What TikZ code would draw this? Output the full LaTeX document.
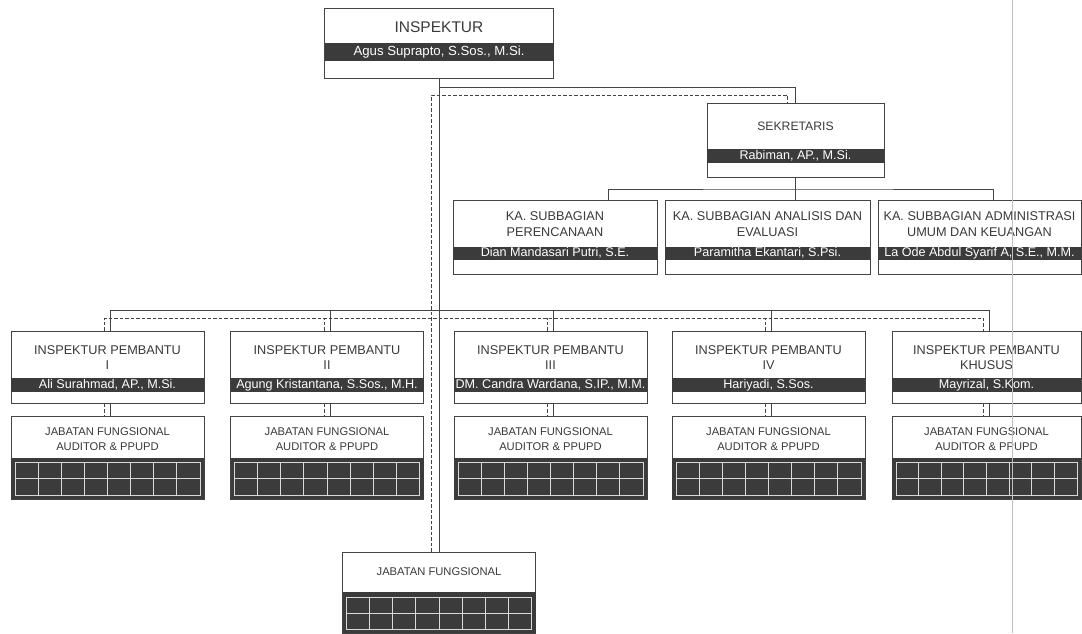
\documentclass[tikz,border=0pt]{standalone}
\usepackage{fontspec}
\setmainfont{Liberation Sans}
\usetikzlibrary{positioning,calc}
\usepackage{xcolor}
\definecolor{linec}{HTML}{444444}
\definecolor{bandc}{HTML}{3B3B3B}
\definecolor{textc}{HTML}{3A3A3A}

\tikzset{
  unit/.style={draw=linec, line width=1pt, fill=white, inner sep=0pt},
  band/.style={fill=bandc, text=white, inner sep=0pt, text height=8.5pt, text depth=2.5pt,
    font=\fontsize{12.6}{14}\selectfont},
  ttl/.style={text=textc, align=center, inner sep=0pt, font=\fontsize{12.7}{15.5}\selectfont},
  jfttl/.style={text=textc, align=center, inner sep=0pt, font=\fontsize{11.2}{15}\selectfont},
  cellarea/.style={fill=bandc, draw=none, inner sep=0pt},
  gridline/.style={draw=white!85!black, line width=0.8pt},
  solidline/.style={draw=linec, line width=1pt},
  dashline/.style={draw=linec, line width=0.9pt, dash pattern=on 3.5pt off 2pt},
}

\begin{document}
\begin{tikzpicture}[x=1pt, y=-1pt]
    \useasboundingbox (0,0) rectangle (1082,633);

    % Inspektur
    \node[unit, minimum width=229, minimum height=70] (insp) at (439,43) {};
    \node[ttl, font=\fontsize{15.5}{18}\selectfont] (insptitle) at (439,27) {INSPEKTUR};
    \node[band, minimum width=229, minimum height=18, font=\fontsize{13.2}{15}\selectfont] (inspname) at (439,52) {Agus Suprapto, S.Sos., M.Si.};

    % Sekretaris
    \node[unit, minimum width=177, minimum height=74] (sekr) at (795.5,140) {};
    \node[ttl, font=\fontsize{12.2}{15}\selectfont] (sekrtitle) at (795.5,126) {SEKRETARIS};
    \node[band, minimum width=177, minimum height=14] (sekrname) at (795.5,156) {Rabiman, AP., M.Si.};

    % Subbagian
    \node[unit, minimum width=204, minimum height=74] (sub1) at (555,237) {};
    \node[ttl] (sub1title) at (555,224) {KA. SUBBAGIAN\\PERENCANAAN};
    \node[band, minimum width=204, minimum height=13] (sub1name) at (555,253.5) {Dian Mandasari Putri, S.E.};

    \node[unit, minimum width=205, minimum height=74] (sub2) at (767.5,237) {};
    \node[ttl] (sub2title) at (767.5,224) {KA. SUBBAGIAN ANALISIS DAN\\EVALUASI};
    \node[band, minimum width=205, minimum height=13] (sub2name) at (767.5,253.5) {Paramitha Ekantari, S.Psi.};

    \node[unit, minimum width=203, minimum height=74] (sub3) at (979.5,237) {};
    \node[ttl] (sub3title) at (979.5,224) {KA. SUBBAGIAN ADMINISTRASI\\UMUM DAN KEUANGAN};
    \node[band, minimum width=203, minimum height=13] (sub3name) at (979.5,253.5) {La Ode Abdul Syarif A, S.E., M.M.};

    % Inspektur pembantu
    \node[unit, minimum width=193, minimum height=72] (ip1) at (107.5,367) {};
    \node[ttl] (ip1title) at (107.5,357.5) {INSPEKTUR PEMBANTU\\I};
    \node[band, minimum width=193, minimum height=14] (ip1name) at (107.5,385) {Ali Surahmad, AP., M.Si.};

    \node[unit, minimum width=193, minimum height=72] (ip2) at (327,367) {};
    \node[ttl] (ip2title) at (327,357.5) {INSPEKTUR PEMBANTU\\II};
    \node[band, minimum width=193, minimum height=14] (ip2name) at (327,385) {Agung Kristantana, S.Sos., M.H.};

    \node[unit, minimum width=193, minimum height=72] (ip3) at (550.5,367) {};
    \node[ttl] (ip3title) at (550.5,357.5) {INSPEKTUR PEMBANTU\\III};
    \node[band, minimum width=193, minimum height=14] (ip3name) at (550.5,385) {DM. Candra Wardana, S.IP., M.M.};

    \node[unit, minimum width=193, minimum height=72] (ip4) at (768.5,367) {};
    \node[ttl] (ip4title) at (768.5,357.5) {INSPEKTUR PEMBANTU\\IV};
    \node[band, minimum width=193, minimum height=14] (ip4name) at (768.5,385) {Hariyadi, S.Sos.};

    \node[unit, minimum width=189, minimum height=72] (ip5) at (986.5,367) {};
    \node[ttl] (ip5title) at (986.5,357.5) {INSPEKTUR PEMBANTU\\KHUSUS};
    \node[band, minimum width=189, minimum height=14] (ip5name) at (986.5,385) {Mayrizal, S.Kom.};

    % Jabatan fungsional auditor
    \foreach \cx/\w/\n in {107.5/193/1, 327/193/2, 550.5/193/3, 768.5/193/4, 986.5/189/5} {
        \node[unit, minimum width=\w, minimum height=83] (jf\n) at (\cx,457.5) {};
        \node[jfttl] (jf\n title) at (\cx,439.5) {JABATAN FUNGSIONAL\\AUDITOR \& PPUPD};
        \node[cellarea, minimum width=\w, minimum height=41] (jf\n cells) at (\cx,478.5) {};
        \draw[gridline] (\cx-\w/2+4,462) rectangle (\cx+\w/2-4,495);
        \draw[gridline] (\cx-\w/2+4,478.5) -- (\cx+\w/2-4,478.5);
        \foreach \k in {1,...,7}
            \draw[gridline] ({\cx-\w/2+4+\k*(\w-8)/8},462) -- ++(0,33);
    }

    % Jabatan fungsional
    \node[unit, minimum width=193, minimum height=81] (jfpusat) at (439,592.5) {};
    \node[jfttl] (jfpusattitle) at (439,572) {JABATAN FUNGSIONAL};
    \node[cellarea, minimum width=193, minimum height=41] (jfpusatcells) at (439,612.5) {};
    \draw[gridline] (346.5,597) rectangle (531.5,629);
    \draw[gridline] (346.5,613) -- (531.5,613);
    \foreach \k in {1,...,7}
        \draw[gridline] ({346.5+\k*185/8},597) -- ++(0,32);

    % Garis komando
    \coordinate (sekrbus) at (795.5,87);
    \coordinate (subbus) at (795.5,189);
    \coordinate (ipbus) at (439,310);
    \draw[solidline] (insp.south) -- (jfpusat.north);
    \draw[solidline] (insp.south |- sekrbus) -- (sekrbus) -- (sekr.north);
    \draw[solidline] (sekr.south) -- (sub2.north -| sekr.south);
    \draw[solidline] ([xshift=53pt]sub1.north) |- (subbus) -| ([xshift=13.5pt]sub3.north);
    \draw[solidline] ([xshift=3pt]ip1.north) |- ([xshift=3pt]ip5.north |- ipbus) -- ([xshift=3pt]ip5.north);
    \foreach \n in {2,3,4}
        \draw[solidline] ([xshift=3pt]ip\n.north) -- ([xshift=3pt]ip\n.north |- ipbus);

    % Garis koordinasi
    \coordinate (dashtop) at (431,95);
    \coordinate (ipdash) at (431,318);
    \draw[dashline] (jfpusat.north -| dashtop) -- (dashtop) -| ([xshift=-8pt]sekr.north);
    \draw[dashline] ([xshift=-3pt]ip1.north) |- ([xshift=-3pt]ip5.north |- ipdash) -- ([xshift=-3pt]ip5.north);
    \foreach \n in {2,3,4}
        \draw[dashline] ([xshift=-3pt]ip\n.north) -- ([xshift=-3pt]ip\n.north |- ipdash);

    % Pembantu ke fungsional
    \foreach \n in {1,...,5} {
        \draw[solidline] ([xshift=3pt]ip\n.south) -- ([xshift=3pt]jf\n.north);
        \draw[dashline] ([xshift=-3pt]ip\n.south) -- ([xshift=-3pt]jf\n.north);
    }

    % Scan fold
    \draw[black!25, line width=0.8pt] (1012,0) -- (1012,633);
\end{tikzpicture}
\end{document}
